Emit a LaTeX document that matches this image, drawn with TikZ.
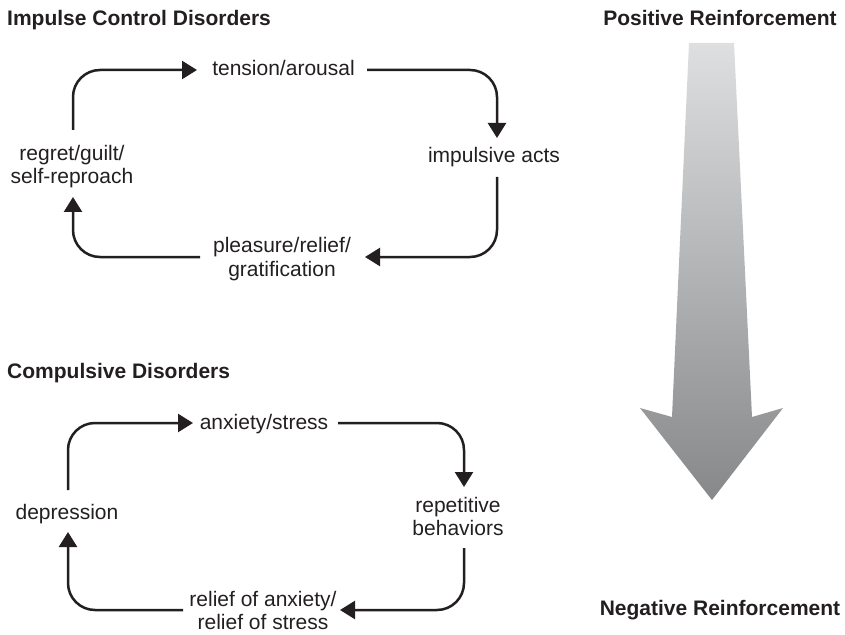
\documentclass[tikz,border=0pt]{standalone}
\usepackage{fontspec}
\setmainfont{Liberation Sans}
\usetikzlibrary{arrows.meta,calc,shadings}
\definecolor{ink}{HTML}{231F20}
\definecolor{atop}{HTML}{DEDFE1}
\definecolor{abot}{HTML}{87888A}
\begin{document}
\begin{tikzpicture}[x=1bp,y=-1bp,
  lbl/.style={font=\fontsize{21bp}{23bp}\selectfont, text=ink, inner sep=0pt, align=center, anchor=base},
  ttl/.style={font=\fontsize{21bp}{23bp}\selectfont\bfseries, text=ink, inner sep=0pt, anchor=base},
  arr/.style={draw=ink, line width=2.5bp, rounded corners=27bp, -{Triangle[length=15bp,width=18bp]}}]
\useasboundingbox (0,0) rectangle (845,635);

% titles
\node[ttl, anchor=base west] (t1) at (7,26) {Impulse Control Disorders};
\node[ttl, anchor=base west] (t2) at (7,378) {Compulsive Disorders};
\node[ttl] (pos) at (720,26) {Positive Reinforcement};
\node[ttl] (neg) at (720,615) {Negative Reinforcement};

% big gradient arrow
\shade[top color=atop, bottom color=abot]
  (689,43) -- (734,43) -- (752,417) -- (783,408) -- (712,500) -- (640,408) -- (672,417) -- cycle;

% top cycle (base anchor = baseline of last line)
\node[lbl] (tension) at (283.5,76) {tension/arousal};
\node[lbl] (impulsive) at (494,163) {impulsive acts};
\node[lbl] (pleasure) at (282,276) {pleasure/relief/\\gratification};
\node[lbl] (regret) at (72,184) {regret/guilt/\\self-reproach};

\draw[arr] ($(regret.base)+(1,-54)$) |- ($(tension.base)+(-86.5,-6)$);
\draw[arr] ($(tension.base)+(83.5,-6)$) -| ($(impulsive.base)+(3,-25)$);
\draw[arr] ($(impulsive.base)+(3,14)$) |- ($(pleasure.base)+(83,-19)$);
\draw[arr] ($(pleasure.base)+(-82,-19)$) -| ($(regret.base)+(1,13)$);

% bottom cycle
\node[lbl] (anxiety) at (264,429) {anxiety/stress};
\node[lbl] (repetitive) at (458,535) {repetitive\\behaviors};
\node[lbl] (relief) at (263,629) {relief of anxiety/\\relief of stress};
\node[lbl] (depression) at (67,519) {depression};

\draw[arr] ($(depression.base)+(1,-29)$) |- ($(anxiety.base)+(-71,-6)$);
\draw[arr] ($(anxiety.base)+(74,-6)$) -| ($(repetitive.base)+(6,-48)$);
\draw[arr] ($(repetitive.base)+(6,13)$) |- ($(relief.base)+(77,-19)$);
\draw[arr] ($(relief.base)+(-80,-19)$) -| ($(depression.base)+(1,13)$);
\end{tikzpicture}
\end{document}
